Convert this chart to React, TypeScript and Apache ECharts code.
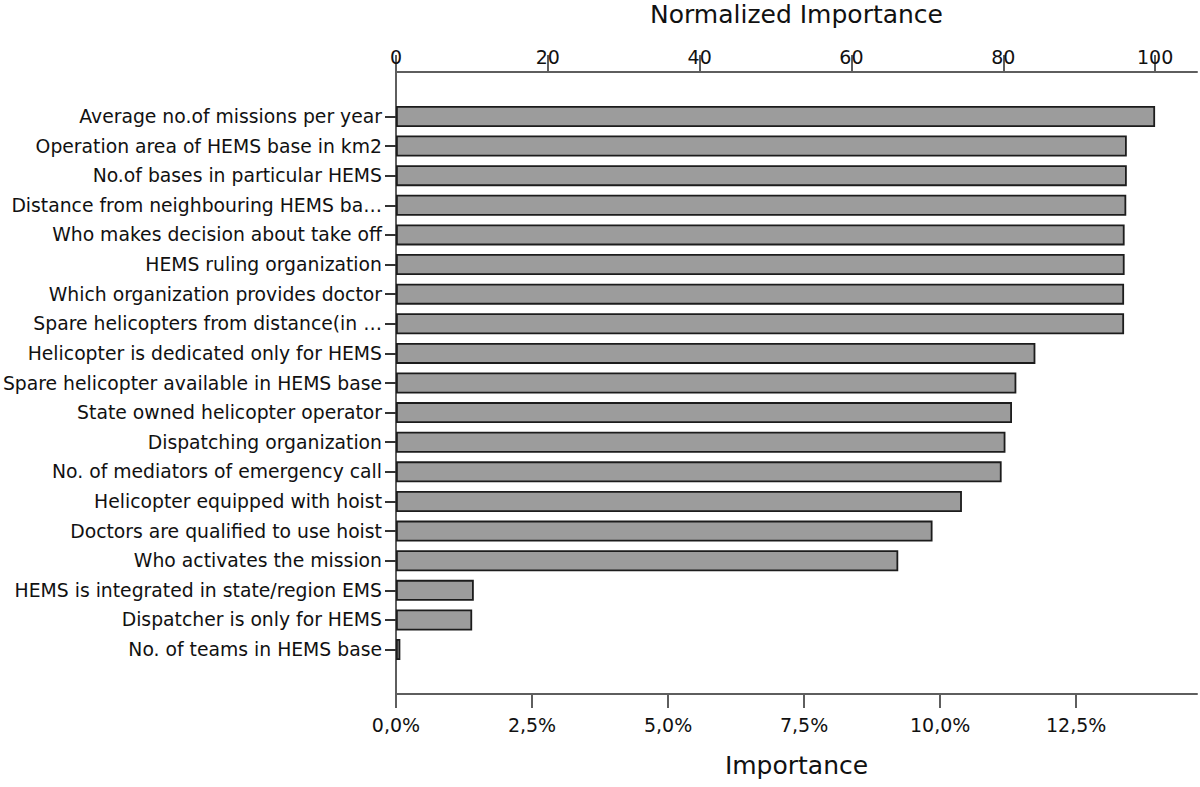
import React, { useEffect, useRef } from "react";
import * as echarts from "echarts";

// predictors, top to bottom
const categories = [
    "Average no.of missions per year",
    "Operation area of HEMS base in km2",
    "No.of bases in particular HEMS",
    "Distance from neighbouring HEMS ba…",
    "Who makes decision about take off",
    "HEMS ruling organization",
    "Which organization provides doctor",
    "Spare helicopters from distance(in …",
    "Helicopter is dedicated only for HEMS",
    "Spare helicopter available in HEMS base",
    "State owned helicopter operator",
    "Dispatching organization",
    "No. of mediators of emergency call",
    "Helicopter equipped with hoist",
    "Doctors are qualified to use hoist",
    "Who activates the mission",
    "HEMS is integrated in state/region EMS",
    "Dispatcher is only for HEMS",
    "No. of teams in HEMS base",
];

// importance in %
const importance = [
    13.95, 13.43, 13.43, 13.42, 13.39, 13.39, 13.38, 13.38, 11.75, 11.4,
    11.32, 11.2, 11.13, 10.4, 9.86, 9.23, 1.43, 1.4, 0.08,
];

const importanceTicks = [0, 2.5, 5, 7.5, 10, 12.5];
const normalizedTicks = [0, 20, 40, 60, 80, 100];
const importanceMax = 14.72;

const FONT = "DejaVu Sans";
const AXIS_GREY = "#5e5e5e";

const App: React.FC = () => {
    const ref = useRef<HTMLDivElement | null>(null);

    useEffect(() => {
        if (!ref.current) return;
        const chart = echarts.init(ref.current, undefined, { renderer: "svg" });

        // one empty slot above and below the bars
        const rows = ["", ...categories, " "];
        const values = [null, ...importance, null];
        const topMax = (importanceMax / Math.max(...importance)) * 100;

        const option: any = {
            animation: false,
            backgroundColor: "#fff",
            grid: {
                left: 396,
                right: 3,
                top: 72,
                bottom: 93,
                containLabel: false,
                outerBoundsMode: "none",
            },
            xAxis: [
                {
                    type: "value",
                    position: "bottom",
                    min: 0,
                    max: importanceMax,
                    name: "Importance",
                    nameLocation: "middle",
                    nameGap: 59,
                    nameTextStyle: { fontFamily: FONT, fontSize: 25, color: "#111" },
                    axisLine: { show: true, lineStyle: { color: AXIS_GREY, width: 2 } },
                    axisTick: {
                        show: true,
                        length: 14,
                        customValues: importanceTicks,
                        lineStyle: { color: AXIS_GREY, width: 2 },
                    },
                    axisLabel: {
                        customValues: importanceTicks,
                        margin: 21,
                        fontFamily: FONT,
                        fontSize: 19,
                        color: "#111",
                        formatter: (v: number) => v.toFixed(1).replace(".", ",") + "%",
                    },
                    splitLine: { show: false },
                },
                {
                    type: "value",
                    position: "top",
                    min: 0,
                    max: topMax,
                    name: "Normalized Importance",
                    nameLocation: "middle",
                    nameGap: 45,
                    nameTextStyle: { fontFamily: FONT, fontSize: 25, color: "#111" },
                    axisLine: { show: true, lineStyle: { color: AXIS_GREY, width: 2 } },
                    axisTick: {
                        show: true,
                        length: 17,
                        customValues: normalizedTicks,
                        lineStyle: { color: AXIS_GREY, width: 2 },
                    },
                    axisLabel: {
                        customValues: normalizedTicks,
                        margin: 6,
                        fontFamily: FONT,
                        fontSize: 19,
                        color: "#111",
                    },
                    splitLine: { show: false },
                },
            ],
            yAxis: {
                type: "category",
                inverse: true,
                data: rows,
                axisLine: { show: true, lineStyle: { color: AXIS_GREY, width: 2 } },
                axisTick: {
                    show: true,
                    length: 11,
                    alignWithLabel: true,
                    interval: (_i: number, v: string) => v.trim() !== "",
                    lineStyle: { color: "#333", width: 2 },
                },
                axisLabel: {
                    interval: 0,
                    margin: 14,
                    fontFamily: FONT,
                    fontSize: 18.8,
                    color: "#111",
                    padding: [5, 0, 0, 0],
                },
                splitLine: { show: false },
            },
            series: [
                {
                    type: "bar",
                    xAxisIndex: 0,
                    data: values,
                    barWidth: 21,
                    itemStyle: { color: "#9c9c9c", borderColor: "#1c1c1c", borderWidth: 1.8 },
                    emphasis: { disabled: true },
                },
            ],
        };

        chart.setOption(option);
        return () => chart.dispose();
    }, []);

    return (
        <div
            ref={ref}
            style={{ position: "absolute", left: 0, top: 0, width: 1200, height: 787 }}
        />
    );
};

export default App;
